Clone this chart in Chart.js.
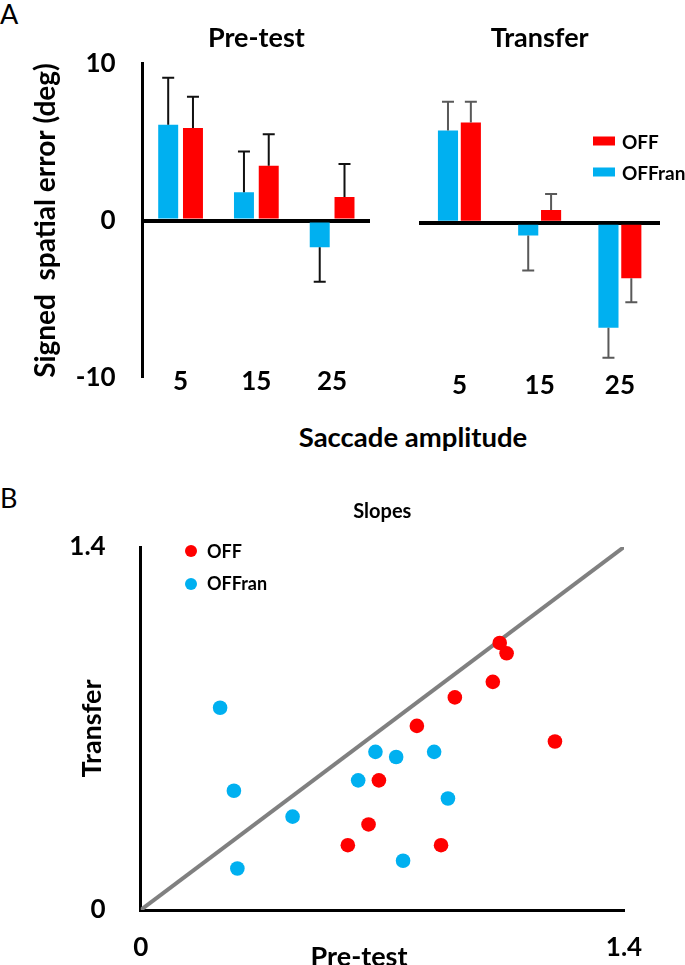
<!DOCTYPE html>
<html>
<head>
<meta charset="utf-8">
<script src="https://cdn.jsdelivr.net/npm/chart.js@4.4.1/dist/chart.umd.min.js"></script>
<style>
  html, body { margin: 0; padding: 0; background: #fff; }
  body { width: 685px; height: 965px; position: relative; overflow: hidden; font-family: Lato, sans-serif; }
  canvas { position: absolute; }
  .txt { position: absolute; line-height: 1; white-space: nowrap; color: #000; }
  .c { transform: translate(-50%, -50%); }
  .l { transform: translate(0, -50%); }
  .b { font-weight: bold; }
  .sw { position: absolute; transform: translate(0, -50%); }
  .dot { position: absolute; border-radius: 50%; transform: translate(-50%, -50%); }
</style>
</head>
<body>
<div class="txt" style="left:0;top:0;font-size:27px;">A</div>
<div class="txt" style="left:0;top:484px;font-size:27px;">B</div>

<canvas id="preChart" width="375" height="420" style="left:0;top:0;"></canvas>
<canvas id="transferChart" width="310" height="420" style="left:375px;top:0;"></canvas>
<div class="txt c b" style="left:413px;top:437px;font-size:27.5px;">Saccade amplitude</div>

<div class="sw" style="left:593px;top:141px;width:22px;height:9px;background:#FF0000;"></div>
<div class="txt l b" style="left:622px;top:141px;font-size:19px;">OFF</div>
<div class="sw" style="left:593px;top:172px;width:22px;height:9px;background:#00B0F0;"></div>
<div class="txt l b" style="left:622px;top:172px;font-size:19px;">OFFran</div>

<canvas id="slopeChart" width="685" height="505" style="left:0;top:465px;"></canvas>
<div class="txt c b" style="left:359px;top:955px;font-size:27px;">Pre-test</div>
<div class="dot" style="left:191px;top:551px;width:12px;height:12px;background:#FF0000;"></div>
<div class="txt l b" style="left:207px;top:551px;font-size:18px;">OFF</div>
<div class="dot" style="left:191px;top:584px;width:12px;height:12px;background:#00B0F0;"></div>
<div class="txt l b" style="left:207px;top:583px;font-size:18px;">OFFran</div>

<script>
// saccade amplitudes (deg)
const amplitudes = ['5', '15', '25'];

// signed spatial error, mean and error bar (deg)
const preOFFran = [6.1, 1.8, -1.7];
const preOFFranErr = [3.0, 2.6, 2.2];
const preOFF = [5.9, 3.5, 1.5];
const preOFFErr = [2.0, 2.0, 2.1];

const transferOFFran = [5.8, -0.8, -6.6];
const transferOFFranErr = [1.8, 2.2, 1.9];
const transferOFF = [6.3, 0.8, -3.5];
const transferOFFErr = [1.3, 1.0, 1.5];

const errorTicks = [-10, 0, 10];

// slopes, one point per subject
const offPre = [1.04, 1.06, 1.02, 0.91, 0.80, 0.69, 0.66, 0.60, 0.87, 1.20];
const offTransfer = [1.03, 0.99, 0.88, 0.82, 0.71, 0.50, 0.33, 0.25, 0.25, 0.65];
const offranPre = [0.23, 0.27, 0.44, 0.28, 0.68, 0.74, 0.85, 0.63, 0.89, 0.76];
const offranTransfer = [0.78, 0.46, 0.36, 0.16, 0.61, 0.59, 0.61, 0.50, 0.43, 0.19];

const slopeTicks = [0, 1.4];

const RED = '#FF0000';
const BLUE = '#00B0F0';

Chart.defaults.font.family = 'Lato';
Chart.defaults.color = '#000';

// draws error bars away from zero, colour per chart
const errorBars = {
    id: 'errorBars',
    afterDatasetsDraw(chart, args, opts) {
        const ctx = chart.ctx;
        const y = chart.scales.y;
        ctx.save();
        ctx.strokeStyle = opts.color;
        ctx.lineWidth = 2;
        chart.data.datasets.forEach((ds, i) => {
            const meta = chart.getDatasetMeta(i);
            meta.data.forEach((bar, j) => {
                const v = ds.data[j];
                const end = v >= 0 ? v + ds.errors[j] : v - ds.errors[j];
                const yEnd = y.getPixelForValue(end);
                ctx.beginPath();
                ctx.moveTo(bar.x, bar.y);
                ctx.lineTo(bar.x, yEnd);
                ctx.moveTo(bar.x - 6, yEnd);
                ctx.lineTo(bar.x + 6, yEnd);
                ctx.stroke();
            });
        });
        ctx.restore();
    }
};

function barOptions(title, showAxis, pad, catPct, barPct, errColor) {
    return {
        responsive: false,
        animation: false,
        categoryPercentage: catPct,
        barPercentage: barPct,
        layout: { padding: pad },
        plugins: {
            legend: { display: false },
            tooltip: { enabled: false },
            errorBars: { color: errColor },
            title: {
                display: true,
                text: title,
                fullSize: false,
                color: '#000',
                font: { size: 27, weight: 'bold' },
                padding: { top: 21.8, bottom: 9.5 }
            }
        },
        scales: {
            x: {
                grid: { display: false },
                border: { display: false },
                // mirror keeps the labels unclipped so they can sit level with the -10 tick
                ticks: { mirror: true, padding: -20, font: { size: 26, weight: 'bold' }, color: '#000' },
                afterFit: s => { s.height = 38.3; }
            },
            y: {
                min: -10,
                max: 10,
                afterBuildTicks: s => { s.ticks = errorTicks.map(v => ({ value: v })); },
                grid: {
                    drawTicks: false,
                    color: c => (c.tick && c.tick.value === 0 ? '#000' : 'rgba(0,0,0,0)'),
                    lineWidth: c => (c.tick && c.tick.value === 0 ? 4 : 1)
                },
                border: { display: showAxis, color: '#000', width: 3 },
                ticks: {
                    display: showAxis,
                    padding: 27,
                    font: { size: 26, weight: 'bold' },
                    color: '#000'
                },
                title: {
                    display: showAxis,
                    text: 'Signed  spatial error (deg)',
                    color: '#000',
                    font: { size: 28, weight: 'bold' },
                    padding: { top: 29 }
                },
                afterFit: s => { s.width = showAxis ? 142.7 : 0; }
            }
        }
    };
}

function barData(offran, offranErr, off, offErr) {
    return {
        labels: amplitudes,
        datasets: [
            { label: 'OFFran', data: offran, errors: offranErr, backgroundColor: BLUE },
            { label: 'OFF', data: off, errors: offErr, backgroundColor: RED }
        ]
    };
}

new Chart(document.getElementById('preChart'), {
    type: 'bar',
    data: barData(preOFFran, preOFFranErr, preOFF, preOFFErr),
    options: barOptions('Pre-test', true, { left: 0, right: 5, top: 0, bottom: 0 }, 0.654, 0.806, '#111'),
    plugins: [errorBars]
});

new Chart(document.getElementById('transferChart'), {
    type: 'bar',
    data: barData(transferOFFran, transferOFFranErr, transferOFF, transferOFFErr),
    options: barOptions('Transfer', false, { left: 44.3, right: 25, top: 0, bottom: 0 }, 0.57, 0.88, '#595959'),
    plugins: [errorBars]
});

const toPoints = (xs, ys) => xs.map((x, i) => ({ x: x, y: ys[i] }));

new Chart(document.getElementById('slopeChart'), {
    type: 'scatter',
    data: {
        datasets: [
            {
                label: 'OFF',
                data: toPoints(offPre, offTransfer),
                backgroundColor: RED,
                borderWidth: 0,
                pointRadius: 7.3,
                order: 1
            },
            {
                label: 'OFFran',
                data: toPoints(offranPre, offranTransfer),
                backgroundColor: BLUE,
                borderWidth: 0,
                pointRadius: 7.3,
                order: 2
            },
            {
                type: 'line',
                label: 'identity',
                data: toPoints(slopeTicks, slopeTicks),
                borderColor: '#808080',
                borderWidth: 4,
                pointRadius: 0,
                order: 3
            }
        ]
    },
    options: {
        responsive: false,
        animation: false,
        layout: { padding: { left: 0, right: 61, top: 0, bottom: 0 } },
        plugins: {
            legend: { display: false },
            tooltip: { enabled: false },
            title: {
                display: true,
                text: 'Slopes',
                fullSize: false,
                color: '#000',
                font: { size: 20, weight: 'bold' },
                padding: { top: 35, bottom: 23 }
            }
        },
        scales: {
            x: {
                min: 0,
                max: 1.4,
                afterBuildTicks: s => { s.ticks = slopeTicks.map(v => ({ value: v })); },
                grid: { display: false },
                border: { color: '#000', width: 3 },
                ticks: {
                    padding: 14,
                    font: { size: 26, weight: 'bold' },
                    color: '#000',
                    callback: v => String(v)
                },
                afterFit: s => { s.height = 60; }
            },
            y: {
                min: 0,
                max: 1.4,
                afterBuildTicks: s => { s.ticks = slopeTicks.map(v => ({ value: v })); },
                grid: { display: false },
                border: { color: '#000', width: 3 },
                ticks: {
                    padding: 27,
                    font: { size: 26, weight: 'bold' },
                    color: '#000',
                    callback: v => String(v)
                },
                title: {
                    display: true,
                    text: 'Transfer',
                    color: '#000',
                    font: { size: 27, weight: 'bold' },
                    padding: { top: 75.8 }
                },
                afterFit: s => { s.width = 140.7; }
            }
        }
    }
});
</script>
</body>
</html>
